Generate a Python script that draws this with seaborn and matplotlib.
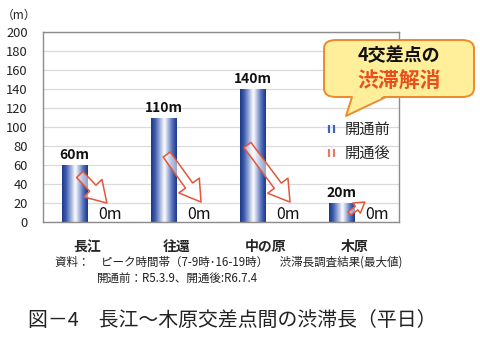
import numpy as np
import pandas as pd
import matplotlib
matplotlib.use("Agg")
import matplotlib.pyplot as plt
import seaborn as sns
from matplotlib.colors import LinearSegmentedColormap
from matplotlib.patches import FancyBboxPatch, Polygon
from matplotlib.lines import Line2D
from matplotlib.legend_handler import HandlerTuple

# ---- data ----
categories = ["長江", "往還", "中の原", "木原"]
series = ["開通前", "開通後"]
before = [60, 110, 140, 20]
after = [0, 0, 0, 0]
yticks = [0, 20, 40, 60, 80, 100, 120, 140, 160, 180, 200]
# arrow annotation anchors (value at arrow start / arrow tip)
arrow_from = [50, 71, 81, 9]
arrow_to = [20, 21, 21, 21]

df = pd.DataFrame({
    "交差点": categories * 2,
    "時期": [series[0]] * 4 + [series[1]] * 4,
    "渋滞長": before + after,
})

sns.set_theme(style="white")
plt.rcParams["font.family"] = ["Noto Sans CJK JP", "DejaVu Sans"]

fig = plt.figure(figsize=(4.8, 3.38), dpi=100)
ax = fig.add_axes([43 / 480, 1 - 222 / 338, 356 / 480, 190 / 338])

sns.barplot(data=df, x="交差点", y="渋滞長", hue="時期", width=0.58,
            palette=["#1F3F95", "#E46C5A"], saturation=1, legend=False, ax=ax)

cmap = LinearSegmentedColormap.from_list(
    "cyl", [(0, "#1A3786"), (0.16, "#3E5DB0"), (0.52, "#FFFFFF"),
            (0.82, "#5270BC"), (1, "#1A3786")])
grad = np.linspace(0, 1, 256).reshape(1, -1)
for bar in ax.containers[0]:
    x0, y0, w, h = bar.get_x(), bar.get_y(), bar.get_width(), bar.get_height()
    im = ax.imshow(grad, cmap=cmap, extent=[x0, x0 + w, y0, y0 + h],
                   aspect="auto", zorder=2, interpolation="bicubic")
    im.set_clip_path(bar)
    bar.set_facecolor("none")
    bar.set_edgecolor("none")

ax.set_xlim(-0.5, 3.5)
ax.set_ylim(0, 200)
ax.set_yticks(yticks)
ax.set_xlabel("")
ax.set_ylabel("")
ax.yaxis.grid(True, color="#DADADA", lw=0.9)
ax.set_axisbelow(True)
for s in ax.spines.values():
    s.set_color("#8C8C8C")
    s.set_linewidth(1.0)
ax.tick_params(axis="y", length=0, pad=11, labelsize=9.3, labelcolor="#222222")
ax.tick_params(axis="x", length=0, pad=13, labelsize=10)
for t in ax.get_xticklabels():
    t.set_fontweight("bold")

# value labels
ax.bar_label(ax.containers[0], labels=[f"{v}m" for v in before], padding=2,
             fontsize=10, fontweight="bold", color="#111111")
for bar, v in zip(ax.containers[1], after):
    ax.annotate(f"{v}m", (bar.get_x() + bar.get_width() / 2, v),
                xytext=(7, -1), textcoords="offset points", ha="center",
                va="bottom", fontsize=11.5, color="#111111", zorder=6)

# red hollow arrows
start_frac = [0.7, 0.62, 0.3, 0.8]
end_frac = [0.75, 0.95, 0.95, 0.4]
for i, (bb, ba) in enumerate(zip(ax.containers[0], ax.containers[1])):
    xs = bb.get_x() + bb.get_width() * start_frac[i]
    xe = ba.get_x() + ba.get_width() * end_frac[i]
    small = i == 3
    ax.annotate("", xy=(xe, arrow_to[i]), xytext=(xs, arrow_from[i]),
                arrowprops=dict(
                    arrowstyle="simple,head_length=1.05,head_width=1.3,tail_width=0.45",
                    fc=(1, 1, 1, 0.55), ec="#E4553A", lw=1.1,
                    shrinkA=0, shrinkB=0, mutation_scale=7 if small else 14),
                zorder=5)

# legend
h1 = (Line2D([], [], marker="|", ls="none", color="#3F63B5", ms=6, mew=1.6),
      Line2D([], [], marker="|", ls="none", color="#3F63B5", ms=6, mew=1.6))
h2 = (Line2D([], [], marker="|", ls="none", color="#E87A6A", ms=6, mew=1.6),
      Line2D([], [], marker="|", ls="none", color="#E87A6A", ms=6, mew=1.6))
fig.legend([h1, h2], series, handler_map={tuple: HandlerTuple(ndivide=None, pad=0.05)},
           loc="upper left", bbox_to_anchor=(327 / 480, 1 - 121 / 338),
           frameon=False, fontsize=11, handlelength=0.6, handletextpad=0.55,
           labelspacing=0.45, borderaxespad=0, borderpad=0)

# callout
bx0, by0, bx1, by1 = 324 / 480, 1 - 97 / 338, 474 / 480, 1 - 40 / 338
box = FancyBboxPatch((bx0, by0), bx1 - bx0, by1 - by0,
                     boxstyle="round,pad=0,rounding_size=0.025",
                     transform=fig.transFigure, fc="#FFEE9A", ec="#EE8A2A",
                     lw=1.4, zorder=10)
fig.add_artist(box)
tip = (346 / 480, 1 - 116 / 338)
bl = (352 / 480, by0)
br = (386 / 480, by0)
tail = Polygon([(bl[0], by0 + 0.006), tip, (br[0], by0 + 0.006)], closed=True,
               transform=fig.transFigure, fc="#FFEE9A", ec="none", zorder=11)
fig.add_artist(tail)
fig.add_artist(Line2D([bl[0], tip[0], br[0]], [bl[1], tip[1], br[1]],
                      transform=fig.transFigure, color="#EE8A2A", lw=1.4,
                      zorder=12))
fig.text(399 / 480, 1 - 56 / 338, "4交差点の", ha="center", va="center",
         fontsize=13, fontweight="bold", color="#111111", zorder=13)
fig.text(399 / 480, 1 - 80 / 338, "渋滞解消", ha="center", va="center",
         fontsize=15, fontweight="bold", color="#E8501E", zorder=13)

# texts
fig.text(19 / 480, 1 - 15 / 338, "（m）", ha="center", va="center", fontsize=8.5,
         color="#222222")
fig.text(55 / 480, 1 - 262 / 338,
         "資料：　ピーク時間帯（7-9時･16-19時）　渋滞長調査結果(最大値)",
         ha="left", va="center", fontsize=8.3, color="#222222")
fig.text(97 / 480, 1 - 278 / 338, "開通前：R5.3.9、開通後:R6.7.4",
         ha="left", va="center", fontsize=8.3, color="#222222")
fig.text(28 / 480, 1 - 320 / 338, "図－4　長江～木原交差点間の渋滞長（平日）",
         ha="left", va="center", fontsize=14.3, color="#222222")

fig.savefig("out.png", dpi=100)
